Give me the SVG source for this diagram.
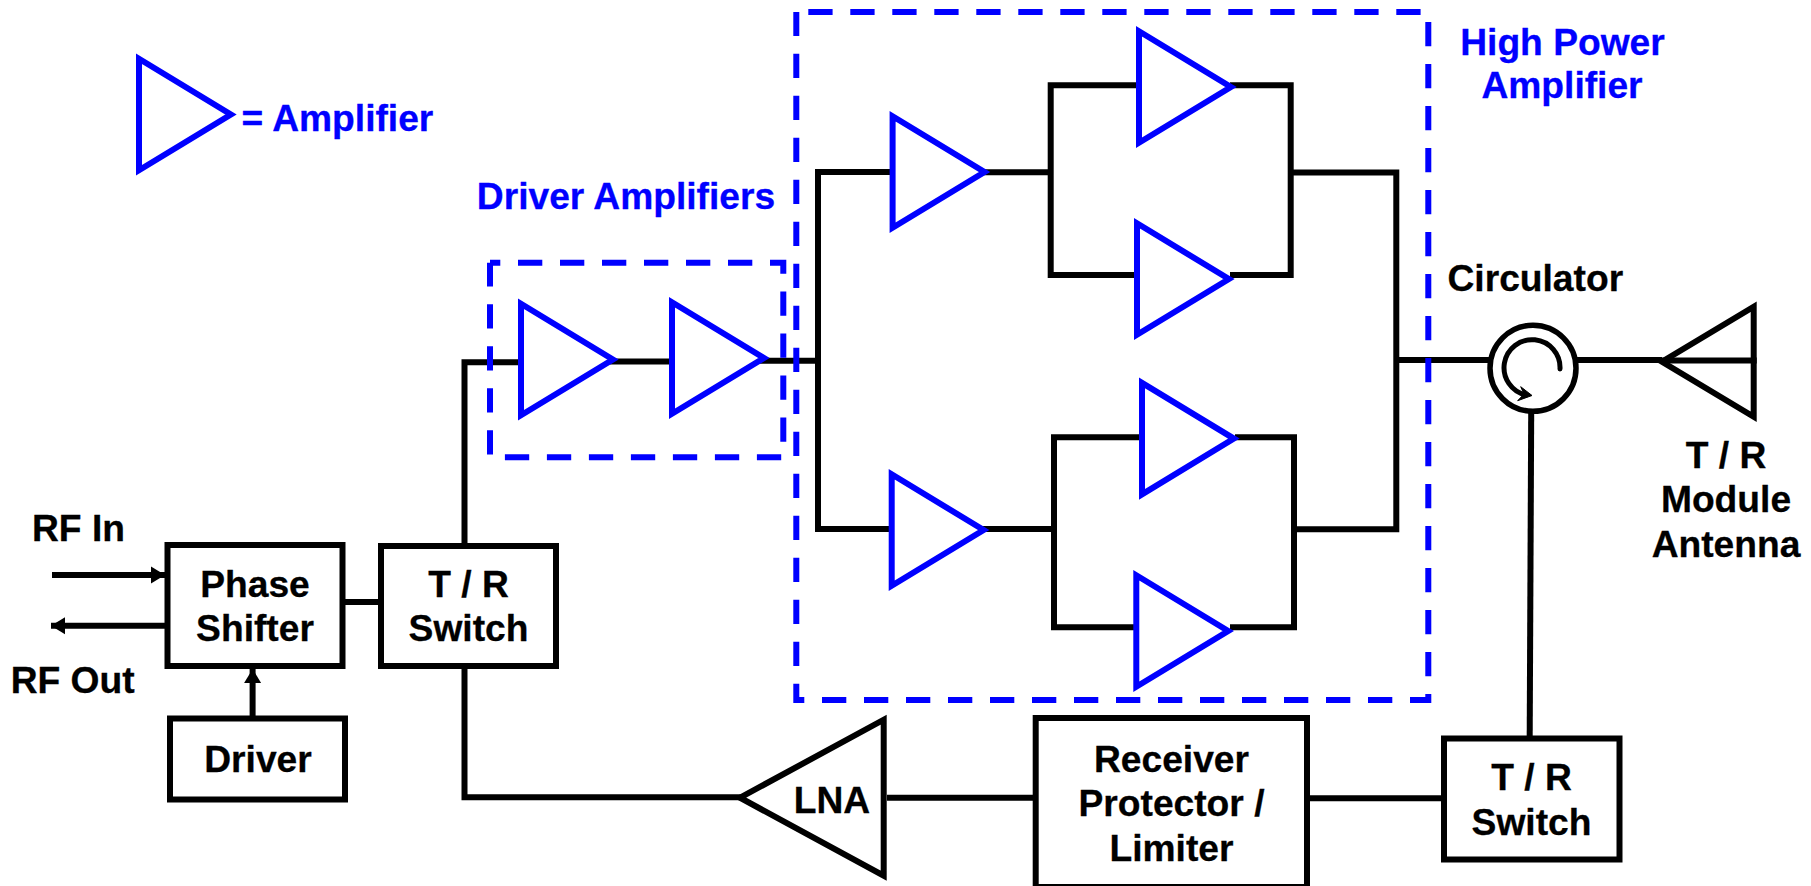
<svg xmlns="http://www.w3.org/2000/svg" xmlns:xlink="http://www.w3.org/1999/xlink" width="1811" height="886" viewBox="0 0 1811 886">
<style>
text{font-family:"Liberation Sans",Arial,sans-serif;font-weight:700;font-size:37.2px;fill:#000;stroke:#000;stroke-width:.3;text-anchor:middle}
text.b{fill:#00f;stroke:#00f}
.box{fill:#fff;stroke:#000;stroke-width:6}
.wire{fill:none;stroke:#000;stroke-width:6;stroke-linejoin:miter}
.amp{fill:#fff;stroke:#00f;stroke-width:6;stroke-linejoin:miter;stroke-miterlimit:10}
.tri{fill:#fff;stroke:#000;stroke-width:6;stroke-linejoin:miter;stroke-miterlimit:10}
.dash{fill:none;stroke:#00f;stroke-width:6;stroke-dasharray:24.3 17.7}
</style>
<defs>
<polygon id="a" class="amp" points="3,-55.7 3,55.7 94.9,0"/>
<marker id="ah" markerUnits="userSpaceOnUse" markerWidth="16" markerHeight="20" viewBox="0 -10 16 20" refX="14" refY="0" orient="auto">
<path d="M0,-8.5L14,0L0,8.5Z" fill="#000"/>
</marker>
</defs>
<g id="connectors">
<path class="wire" d="M461.5,362.3H530M464.5,543V362.3"/>
<path class="wire" d="M610,361.5H680"/>
<path class="wire" d="M760,360.7H818M895,172H818V529H900"/>
<path class="wire" d="M980,172.3H1050.7M1140,85.3H1050.7V275H1140M1230,85.3H1290.7V275H1230M1290.7,172.5H1396.3V529.3H1294"/>
<path class="wire" d="M980,529H1054M1145,437.3H1054V627.3H1140M1235,437.3H1294V627.3H1230"/>
<path class="wire" d="M1396,360H1490M1576,360H1662"/>
<path class="wire" d="M1531.2,412L1529.7,736"/>
<path class="wire" d="M1310,798.3H1441M887,797.7H1033M745,797.2H464.5V669"/>
<path class="wire" d="M345,602H378"/>
<path class="wire" marker-end="url(#ah)" d="M52,575H165"/>
<path class="wire" marker-end="url(#ah)" d="M165,625.7H51"/>
<path class="wire" marker-end="url(#ah)" d="M252.6,716V669"/>
</g>
<g id="phase-shifter"><rect class="box" x="167.5" y="545" width="175" height="121"/><text x="255" y="596.7">Phase</text><text x="255" y="640.7">Shifter</text></g>
<g id="tr-switch-1"><rect class="box" x="381" y="546" width="175" height="120"/><text x="468.5" y="597.3">T / R</text><text x="468.5" y="641">Switch</text></g>
<g id="driver"><rect class="box" x="170" y="718.5" width="175" height="81"/><text x="258" y="772.3">Driver</text></g>
<g id="tr-switch-2"><rect class="box" x="1444" y="738.5" width="175.5" height="121"/><text x="1531.5" y="790">T / R</text><text x="1531.5" y="835">Switch</text></g>
<g id="receiver-protector"><rect class="box" x="1035.7" y="718" width="271.3" height="169"/><text x="1171.5" y="771.7">Receiver</text><text x="1171.5" y="815.7">Protector /</text><text x="1171.5" y="861">Limiter</text></g>
<g id="lna"><polygon class="tri" points="883.7,719.7 883.7,875.7 740,797.7"/><text x="832" y="812.7">LNA</text></g>
<g id="circulator">
<circle cx="1533" cy="368.3" r="43" fill="#fff" stroke="#000" stroke-width="5.5"/>
<path d="M1560,369A28,28 0 1 0 1526,395" fill="none" stroke="#000" stroke-width="5" stroke-linecap="round"/>
<path d="M1532,395.5L1520.7,386.7L1524,394L1517.7,400.7Z" fill="#000" stroke="#000" stroke-width="1"/>
<text x="1535.3" y="291">Circulator</text>
</g>
<g id="antenna">
<polygon class="tri" style="fill:none" points="1753.7,306.7 1753.7,416.7 1662,361.7"/>
<path class="wire" d="M1660,360.5H1756.7"/>
<text x="1726" y="468.3">T / R</text><text x="1726" y="512.3">Module</text><text x="1726" y="557.3">Antenna</text>
</g>
<g id="legend"><use href="#a" xlink:href="#a" x="136" y="114.5"/><text class="b" x="241.5" y="130.7" style="text-anchor:start">= Amplifier</text></g>
<g id="driver-amp-1"><use href="#a" xlink:href="#a" x="518" y="359.5"/></g>
<g id="driver-amp-2"><use href="#a" xlink:href="#a" x="669" y="358"/></g>
<g id="hpa-amp-1"><use href="#a" xlink:href="#a" x="889.6" y="172"/></g>
<g id="hpa-amp-2"><use href="#a" xlink:href="#a" x="1136" y="87"/></g>
<g id="hpa-amp-3"><use href="#a" xlink:href="#a" x="1134" y="279"/></g>
<g id="hpa-amp-4"><use href="#a" xlink:href="#a" x="888.7" y="530"/></g>
<g id="hpa-amp-5"><use href="#a" xlink:href="#a" x="1139" y="438.6"/></g>
<g id="hpa-amp-6"><use href="#a" xlink:href="#a" x="1133.3" y="631"/></g>
<g id="driver-amplifiers-group"><path class="dash" stroke-dashoffset="14" d="M490,262.7H783.3V457.3H490V262.7"/><text class="b" x="626" y="209.3">Driver Amplifiers</text></g>
<g id="high-power-amplifier-group"><path class="dash" d="M808.3,12H1428.3V700H796.3V12"/><text class="b" x="1562.5" y="55">High Power</text><text class="b" x="1562" y="98.3">Amplifier</text></g>
<g id="rf-labels"><text x="78.5" y="540.7">RF In</text><text x="72.7" y="692.7">RF Out</text></g>
</svg>
